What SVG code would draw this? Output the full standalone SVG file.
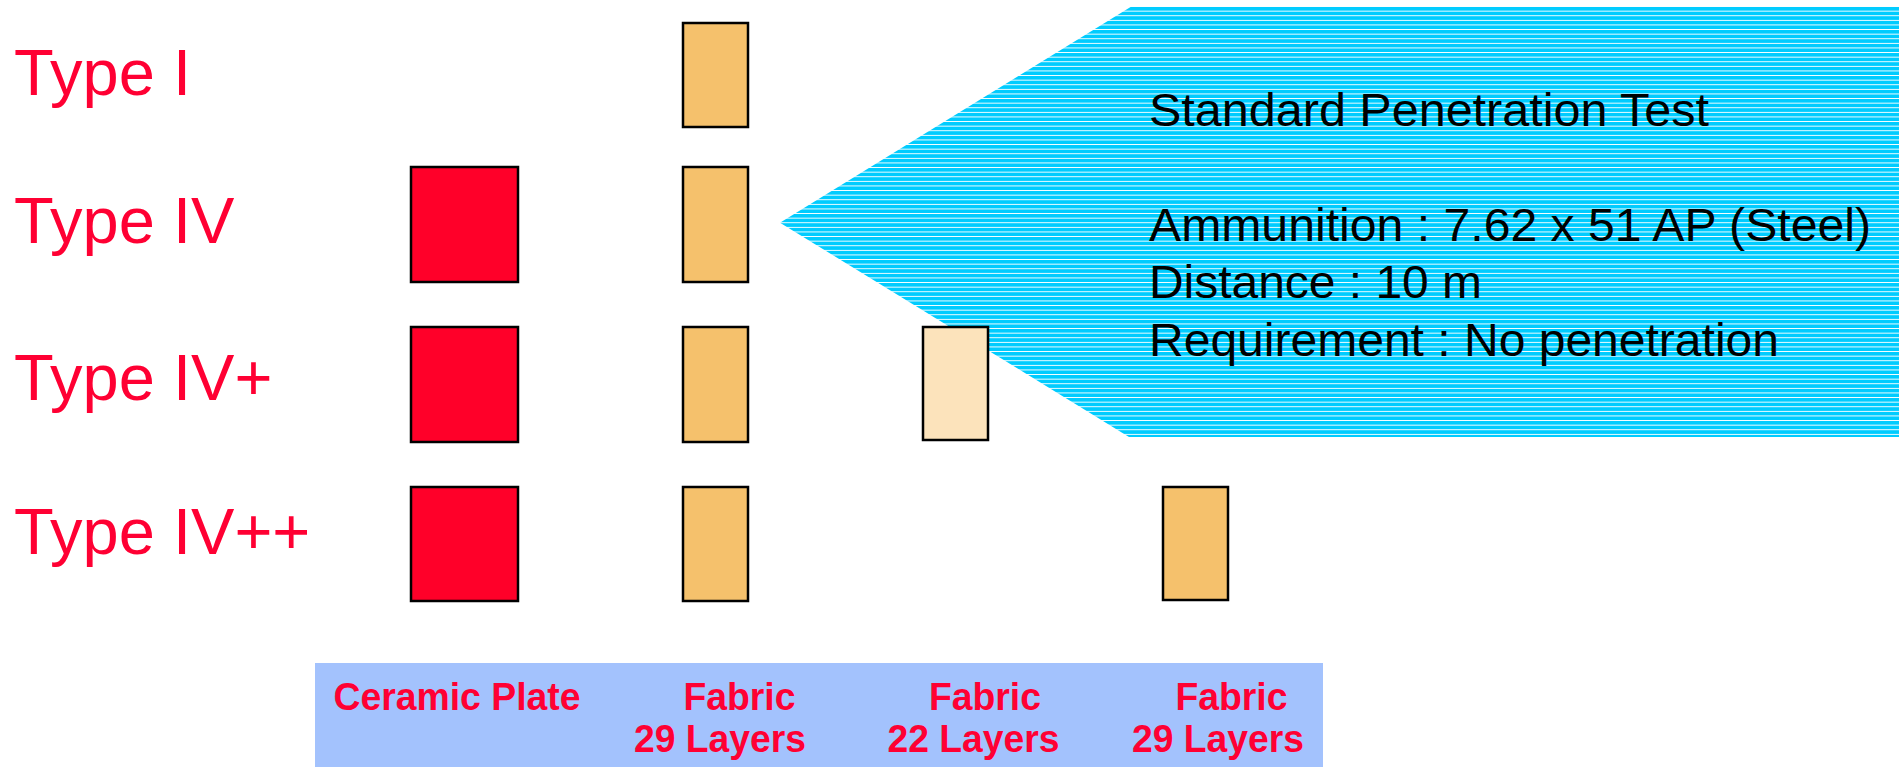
<svg xmlns="http://www.w3.org/2000/svg" width="1904" height="767" viewBox="0 0 1904 767">
<style>
.type{font-family:"Liberation Sans",Arial,sans-serif;font-size:65px;fill:#FF0033}
.info{font-family:"Liberation Sans",Arial,sans-serif;font-size:46px;fill:#000}
.lbl{font-family:"Liberation Sans",Arial,sans-serif;font-size:39.5px;font-weight:bold;fill:#FF0033}
.ceramic{fill:#FF0029;stroke:#000;stroke-width:2.5}
.fabric{fill:#F5C16C;stroke:#000;stroke-width:2.5}
.fabric-light{fill:#FCE3BB;stroke:#000;stroke-width:2.5}
</style>
<defs>
<pattern id="stripes" patternUnits="userSpaceOnUse" x="0" y="7" width="40" height="4.6">
<rect x="0" y="0" width="40" height="4.6" fill="#00CCFF" shape-rendering="crispEdges"/>
<rect x="0" y="3.6" width="40" height="1" fill="#FFFFFF" shape-rendering="crispEdges"/>
</pattern>
</defs>
<rect width="1904" height="767" fill="#FFFFFF"/>
<g id="labels">
<text class="type" x="14" y="95">Type I</text>
<text class="type" x="14" y="243">Type IV</text>
<text class="type" x="14" y="400">Type IV+</text>
<text class="type" x="14" y="554">Type IV++</text>
</g>
<g id="test-callout">
<polygon points="780,222.7 1131,6.7 1899,6.7 1899,437 1129,437" fill="url(#stripes)"/>
<text class="info" x="1149" y="126" textLength="560" lengthAdjust="spacingAndGlyphs">Standard Penetration Test</text>
<text class="info" x="1149" y="241" textLength="722" lengthAdjust="spacingAndGlyphs">Ammunition : 7.62 x 51 AP (Steel)</text>
<text class="info" x="1149" y="298" textLength="333" lengthAdjust="spacingAndGlyphs">Distance : 10 m</text>
<text class="info" x="1149" y="356" textLength="630" lengthAdjust="spacingAndGlyphs">Requirement : No penetration</text>
</g>
<g id="type1">
<rect class="fabric" x="683" y="23" width="65" height="104"/>
</g>
<g id="type4">
<rect class="ceramic" x="411" y="167" width="107" height="115"/>
<rect class="fabric" x="683" y="167" width="65" height="115"/>
</g>
<g id="type4plus">
<rect class="ceramic" x="411" y="327" width="107" height="115"/>
<rect class="fabric" x="683" y="327" width="65" height="115"/>
<rect class="fabric-light" x="923" y="327" width="65" height="113"/>
</g>
<g id="type4plusplus">
<rect class="ceramic" x="411" y="487" width="107" height="114"/>
<rect class="fabric" x="683" y="487" width="65" height="114"/>
<rect class="fabric" x="1163" y="487" width="65" height="113"/>
</g>
<g id="connectors"></g>
<g id="legend">
<rect x="315" y="663" width="1008" height="104" fill="#A3C2FD"/>
<text class="lbl" x="333.5" y="710" textLength="247" lengthAdjust="spacingAndGlyphs">Ceramic Plate</text>
<text class="lbl" x="683.5" y="709.5" textLength="112" lengthAdjust="spacingAndGlyphs">Fabric</text>
<text class="lbl" x="634" y="752" textLength="172" lengthAdjust="spacingAndGlyphs">29 Layers</text>
<text class="lbl" x="929" y="709.5" textLength="112" lengthAdjust="spacingAndGlyphs">Fabric</text>
<text class="lbl" x="887.5" y="752" textLength="172" lengthAdjust="spacingAndGlyphs">22 Layers</text>
<text class="lbl" x="1175.5" y="709.5" textLength="112" lengthAdjust="spacingAndGlyphs">Fabric</text>
<text class="lbl" x="1132" y="752" textLength="172" lengthAdjust="spacingAndGlyphs">29 Layers</text>
</g>
</svg>
